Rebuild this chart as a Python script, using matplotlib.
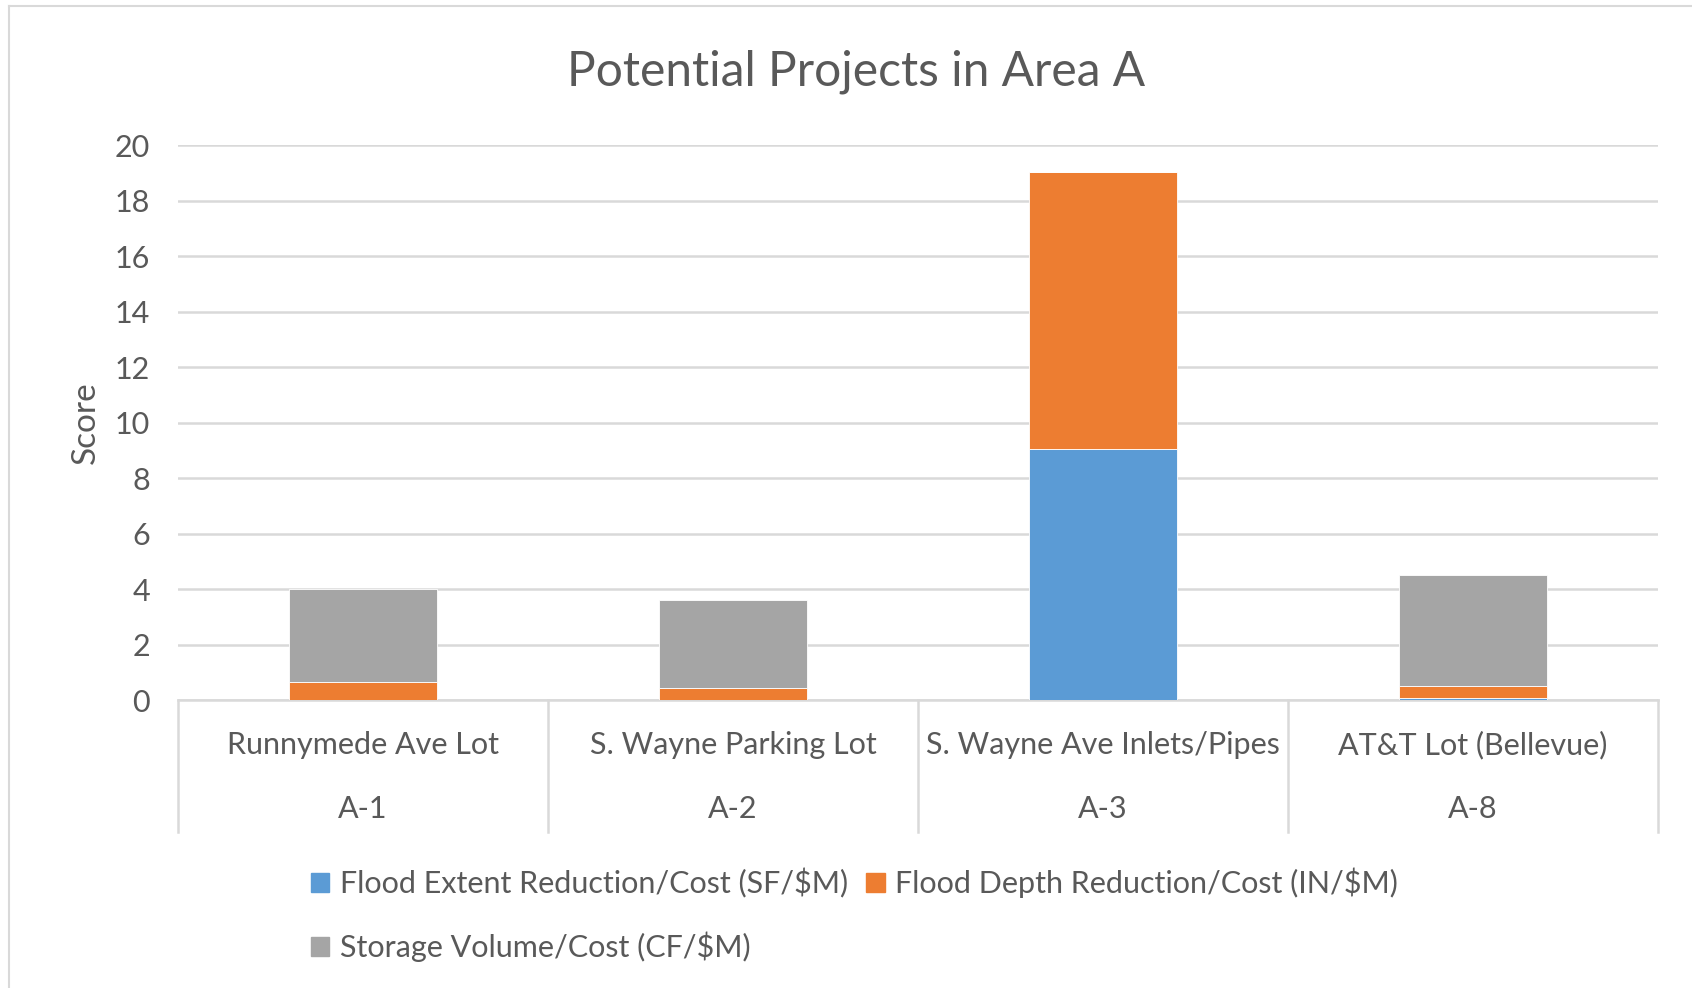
import matplotlib
matplotlib.use("Agg")
import matplotlib.pyplot as plt
import matplotlib.transforms as mtransforms
from matplotlib.patches import Patch
import numpy as np

plt.rcParams['font.family'] = ['Lato', 'DejaVu Sans']

# data
projects = ["Runnymede Ave Lot", "S. Wayne Parking Lot", "S. Wayne Ave Inlets/Pipes", "AT&T Lot (Bellevue)"]
codes = ["A-1", "A-2", "A-3", "A-8"]
extent = [0.0, 0.0, 9.05, 0.1]
depth = [0.68, 0.44, 10.0, 0.41]
storage = [3.33, 3.17, 0.0, 4.0]
series_names = ["Flood Extent Reduction/Cost (SF/$M)",
                "Flood Depth Reduction/Cost (IN/$M)",
                "Storage Volume/Cost (CF/$M)"]
colors = ["#5b9bd5", "#ed7d31", "#a5a5a5"]
txt = "#595959"
grid = "#d9d9d9"

fig = plt.figure(figsize=(16.92, 9.88), dpi=100)
ax = fig.add_axes([0.1052, 0.291, 0.8748, 0.562])

x = np.arange(len(projects))
w = 0.40
ext = np.array(extent)
dep = np.array(depth)
sto = np.array(storage)
ax.bar(x, ext, w, color=colors[0], edgecolor="white", linewidth=0.6, zorder=3)
ax.bar(x, dep, w, bottom=ext, color=colors[1], edgecolor="white", linewidth=0.6, zorder=3)
ax.bar(x, sto, w, bottom=ext + dep, color=colors[2], edgecolor="white", linewidth=0.6, zorder=3)

ax.set_xlim(-0.5, len(projects) - 0.5)
ax.set_ylim(0, 20)
ax.set_yticks(range(0, 21, 2))
ax.yaxis.grid(True, color=grid, linewidth=1.8, zorder=0)
ax.set_axisbelow(True)
for s in ["left", "right", "top"]:
    ax.spines[s].set_visible(False)
ax.spines["bottom"].set_color(grid)
ax.spines["bottom"].set_linewidth(1.8)
ax.tick_params(axis="y", length=0, pad=20, labelsize=22, labelcolor=txt)
ax.set_xticks([])

ax.set_ylabel("Score", fontsize=24, color=txt, labelpad=10)

# two level category axis
trans = mtransforms.blended_transform_factory(ax.transData, ax.transAxes)
for b in np.arange(-0.5, len(projects), 1.0):
    ax.plot([b, b], [0, -0.236], transform=trans, color=grid, linewidth=1.8, clip_on=False)
for i in range(len(projects)):
    ax.text(x[i], -0.081, projects[i], transform=trans, ha="center", va="center",
            fontsize=22, color=txt)
    ax.text(x[i], -0.196, codes[i], transform=trans, ha="center", va="center",
            fontsize=22, color=txt)

fig.text(0.506, 0.927, "Potential Projects in Area A", ha="center", va="center",
         fontsize=34.5, color=txt)

handles = [Patch(color=colors[0]), Patch(color=colors[2]), Patch(color=colors[1])]
labels = [series_names[0], series_names[2], series_names[1]]
fig.legend(handles, labels, ncol=2, loc="center", bbox_to_anchor=(0.505, 0.074),
           frameon=False, fontsize=22, labelcolor=txt, handlelength=0.6,
           handleheight=0.6, handletextpad=0.35, columnspacing=0.6, labelspacing=1.1)

# chart border
fig.add_artist(plt.Line2D([9 / 1692, 9 / 1692], [0, 1 - 6 / 988], color=grid, linewidth=1.5))
fig.add_artist(plt.Line2D([9 / 1692, 1], [1 - 6 / 988, 1 - 6 / 988], color=grid, linewidth=1.5))

fig.savefig("out.png", dpi=100)
